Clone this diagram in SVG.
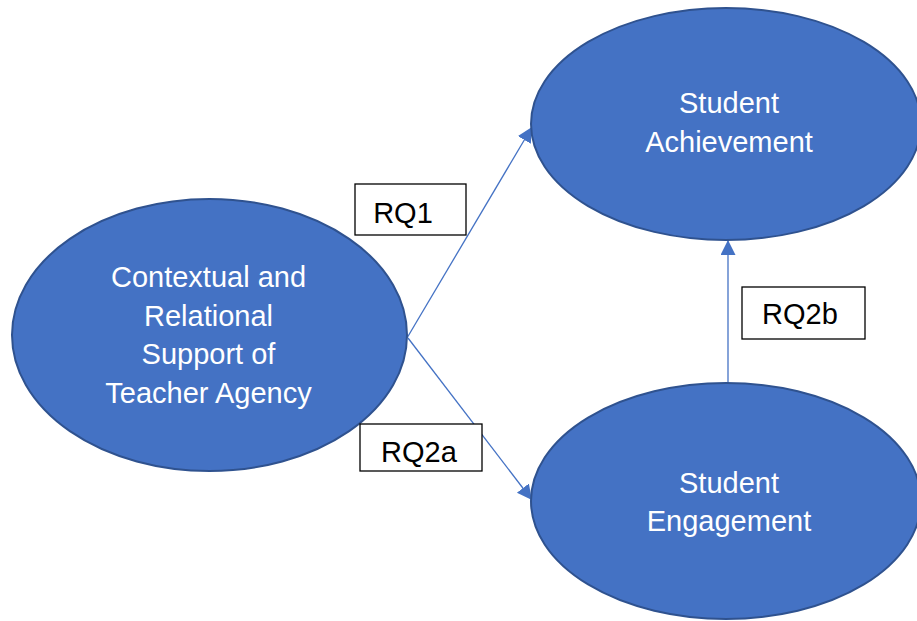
<svg xmlns="http://www.w3.org/2000/svg" width="917" height="621" viewBox="0 0 917 621">
  <defs>
    <marker id="arrow" markerUnits="userSpaceOnUse" markerWidth="16" markerHeight="16" refX="15" refY="7.5" orient="auto">
      <path d="M0,0 L15,7.5 L0,15 Z" fill="#4472C4"/>
    </marker>
    <style>
      .node { fill: #4472C4; stroke: #2F528F; stroke-width: 2; }
      .node-text { fill: #FFFFFF; font-family: "Liberation Sans", Arial, sans-serif; font-size: 29px; text-anchor: middle; }
      .edge { stroke: #4472C4; stroke-width: 1.3; fill: none; marker-end: url(#arrow); }
      .label-box { fill: #FFFFFF; stroke: #000000; stroke-width: 1.3; }
      .label-text { fill: #000000; font-family: "Liberation Sans", Arial, sans-serif; font-size: 29px; text-anchor: middle; }
    </style>
  </defs>
  <rect width="917" height="621" fill="#FFFFFF"/>

  <g id="connectors">
    <line class="edge" x1="407" y1="338" x2="532" y2="127"/>
    <line class="edge" x1="408" y1="338" x2="532" y2="500"/>
    <line class="edge" x1="728" y1="383" x2="728" y2="240"/>
  </g>

  <g id="node-agency">
    <ellipse class="node" cx="209.5" cy="335" rx="197.5" ry="136"/>
    <text class="node-text" x="208.5" y="287">Contextual and</text>
    <text class="node-text" x="208.5" y="326">Relational</text>
    <text class="node-text" x="208.5" y="364">Support of</text>
    <text class="node-text" x="208.5" y="403">Teacher Agency</text>
  </g>

  <g id="node-achievement">
    <ellipse class="node" cx="726" cy="124" rx="195" ry="116"/>
    <text class="node-text" x="729" y="113">Student</text>
    <text class="node-text" x="729" y="152">Achievement</text>
  </g>

  <g id="node-engagement">
    <ellipse class="node" cx="726" cy="501" rx="195" ry="118"/>
    <text class="node-text" x="729" y="493">Student</text>
    <text class="node-text" x="729" y="531">Engagement</text>
  </g>

  <g id="label-rq1">
    <rect class="label-box" x="355" y="184" width="111" height="51"/>
    <text class="label-text" x="403" y="223">RQ1</text>
  </g>

  <g id="label-rq2a">
    <rect class="label-box" x="360" y="424" width="122" height="47"/>
    <text class="label-text" x="419" y="462">RQ2a</text>
  </g>

  <g id="label-rq2b">
    <rect class="label-box" x="742" y="287" width="123" height="52"/>
    <text class="label-text" x="800" y="324">RQ2b</text>
  </g>
</svg>
